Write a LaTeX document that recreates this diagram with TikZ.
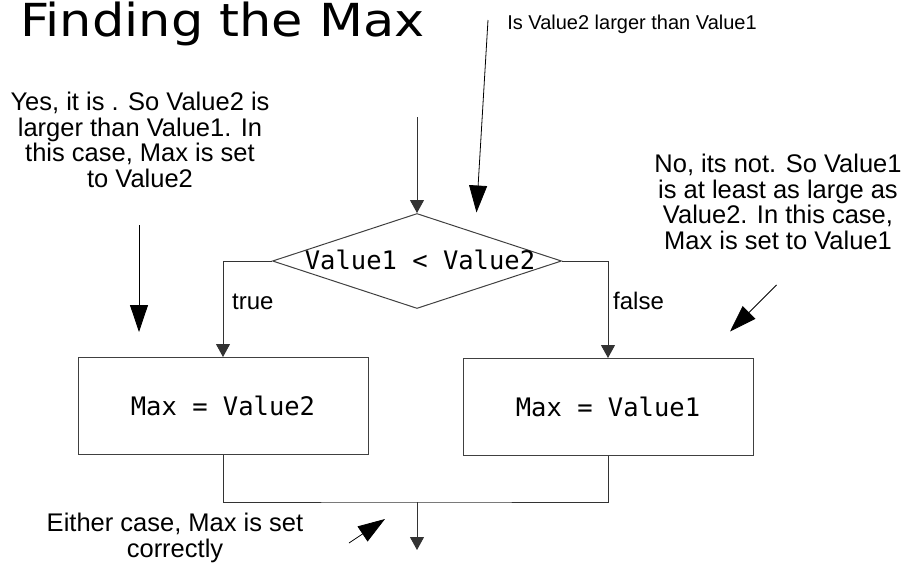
\documentclass[tikz,border=0pt]{standalone}
\usepackage{graphicx}
\usepackage{fontspec}
\setmainfont{Liberation Sans}
\newfontfamily\titlefont{DejaVu Sans}
\newfontfamily\codefont{DejaVu Sans Mono}
\newfontfamily\notefont{Liberation Sans}
\usetikzlibrary{arrows.meta,shapes.geometric}

\begin{document}
\begin{tikzpicture}[x=1pt,y=-1pt,
  flowline/.style={draw=black!80, line width=1pt},
  flowarrow/.style={flowline, -{Triangle[length=13pt,width=14pt]}},
  notearrow/.style={draw=black, line width=0.8pt, -{Triangle[length=27pt,width=18pt]}},
  stepbox/.style={draw=black!75, line width=1pt, minimum width=290pt,
    minimum height=97pt, inner sep=0pt, font=\codefont\fontsize{25.5}{30}\selectfont},
  decision/.style={diamond, draw=black!75, line width=1pt, minimum width=289pt,
    minimum height=95pt, inner sep=0pt},
  code/.style={font=\codefont\fontsize{25.5}{30}\selectfont, inner sep=0pt},
  note/.style={font=\notefont\fontsize{25.5}{25.5}\selectfont, align=center, inner sep=0pt},
  branch/.style={font=\fontsize{24}{28}\selectfont, inner sep=0pt, anchor=base west}
]
\useasboundingbox (0,0) rectangle (911,573);

% title
\node[anchor=base west, inner sep=0pt] (title) at (20,36)
  {\titlefont\fontsize{45.5}{50}\selectfont\scalebox{1.12}[1]{Finding the Max}};

% decision and the two assignments
\node[decision] (d) at (417,261) {};
\node[code, anchor=base] (dtext) at (420,269) {Value1 < Value2};
\node[stepbox] (lb) at (223,406) {Max = Value2};
\node[stepbox] (rb) at (608,407) {Max = Value1};

% flow connectors
\coordinate (entry) at (417,117);
\coordinate (merge) at (417,502);
\coordinate (exit) at (417,550);
\draw[flowarrow] (entry) -- (d.north);
\draw[flowarrow] (d.west) -| (lb.north);
\draw[flowarrow] (d.east) -| (rb.north);
\draw[flowline] (lb.south) |- (merge) -| (rb.south);
\draw[flowarrow] (merge) -- (exit);

\node[branch] (t) at (232,309) {true};
\node[branch] (f) at (613,309) {false};

% annotations
\node[note, anchor=base, font=\notefont\fontsize{20}{24}\selectfont] (q) at (632,29)
  {Is Value2 larger than Value1};
\coordinate (qfrom) at (488,20);
\coordinate (qto) at (476.5,212.5);
\draw[notearrow] (qfrom) -- (qto);

\node[note, anchor=north] (yes) at (140,92)
  {Yes, it is . So Value2 is\\ larger than Value1. In\\ this case, Max is set\\ to Value2};
\coordinate (yfrom) at (139,225);
\coordinate (yto) at (139,332);
\draw[notearrow] (yfrom) -- (yto);

\node[note, anchor=north] (no) at (778,154)
  {No, its not. So Value1\\ is at least as large as\\ Value2. In this case,\\ Max is set to Value1};
\coordinate (nfrom) at (776.5,285);
\coordinate (nto) at (730,331.5);
\draw[notearrow] (nfrom) -- (nto);

\node[note, anchor=north] (either) at (175,513)
  {Either case, Max is set\\ correctly};
\coordinate (efrom) at (349,543);
\coordinate (eto) at (385,519);
\draw[notearrow] (efrom) -- (eto);
\end{tikzpicture}
\end{document}
